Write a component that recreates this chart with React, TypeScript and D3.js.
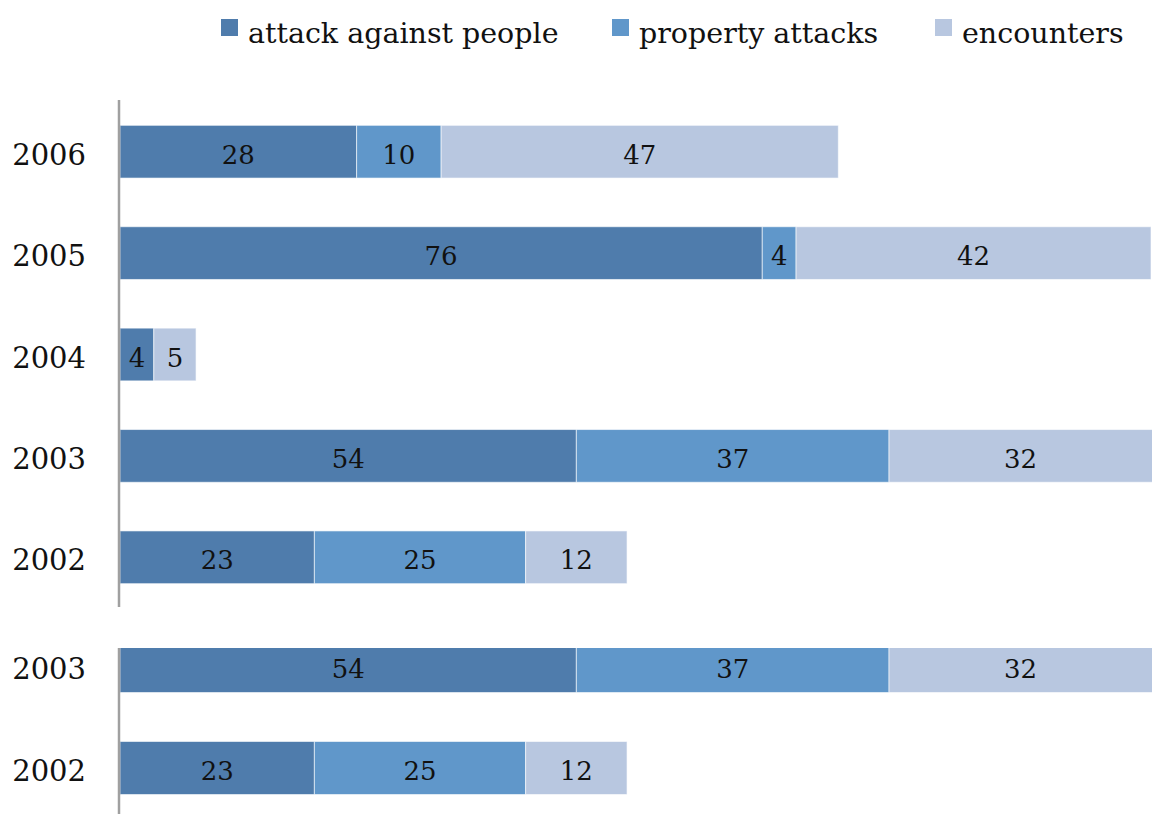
import React from "react";
import * as d3 from "d3";

const seriesNames = ["attack against people", "property attacks", "encounters"];
const seriesColors = ["#4f7cac", "#6097ca", "#b8c7e0"];

const topYears = ["2006", "2005", "2004", "2003", "2002"];
const topAttacks = [28, 76, 4, 54, 23];
const topProperty = [10, 4, 0, 37, 25];
const topEncounters = [47, 42, 5, 32, 12];

const bottomYears = ["2003", "2002"];
const bottomAttacks = [54, 23];
const bottomProperty = [37, 25];
const bottomEncounters = [32, 12];

const W = 1152;
const H = 814;
const FONT = "'DejaVu Serif', 'Liberation Serif', serif";

const x = d3.scaleLinear().domain([0, 122]).range([120, 1151]);

type Row = { year: string; values: number[] };

function buildRows(years: string[], a: number[], p: number[], e: number[]): Row[] {
  return years.map((y, i) => ({ year: y, values: [a[i], p[i], e[i]] }));
}

function Panel({ rows, y0, y1, clipTop, axisTop, axisBottom, id }: {
  rows: Row[]; y0: number; y1: number; clipTop: number; axisTop: number; axisBottom: number; id: string;
}) {
  const y = d3.scaleBand<string>().domain(rows.map((r) => r.year)).range([y0, y1]).paddingInner(0.48).paddingOuter(0.24);
  const stack = d3.stack<Row, number>().keys([0, 1, 2]).value((d, k) => d.values[k]);
  const stacked = stack(rows);
  return (
    <g>
      <defs>
        <clipPath id={id}>
          <rect x={0} y={clipTop} width={W} height={axisBottom - clipTop} />
        </clipPath>
      </defs>
      <g clipPath={`url(#${id})`}>
        {stacked.map((layer, si) =>
          layer.map((seg, ri) => {
            const v = rows[ri].values[si];
            if (!v) return null;
            const bx = x(seg[0]);
            const bw = x(seg[1]) - x(seg[0]);
            const by = y(rows[ri].year)!;
            const bh = y.bandwidth();
            const visRight = Math.min(bx + bw, W);
            return (
              <g key={`${si}-${ri}`}>
                <rect x={bx} y={by} width={bw} height={bh} fill={seriesColors[si]} stroke="#ffffff" strokeOpacity={0.6} strokeWidth={1} />
                <text x={(bx + visRight) / 2} y={by + bh / 2 + 3} textAnchor="middle" dominantBaseline="central"
                  fontFamily={FONT} fontSize={26} fill="#111">{v}</text>
              </g>
            );
          })
        )}
      </g>
      {rows.map((r) => (
        <text key={r.year} x={86} y={y(r.year)! + y.bandwidth() / 2 + 3} textAnchor="end" dominantBaseline="central"
          fontFamily={FONT} fontSize={29} fill="#111">{r.year}</text>
      ))}
      <line x1={119} x2={119} y1={axisTop} y2={axisBottom} stroke="#a0a0a0" strokeWidth={2.5} />
    </g>
  );
}

export default function App() {
  const topRows = buildRows(topYears, topAttacks, topProperty, topEncounters);
  const bottomRows = buildRows(bottomYears, bottomAttacks, bottomProperty, bottomEncounters);
  const legendX = [221, 612, 935];
  return (
    <svg width={W} height={H} style={{ position: "absolute", left: 0, top: 0, background: "#fff" }}>
      <rect x={0} y={0} width={W} height={H} fill="#fff" />
      {seriesNames.map((n, i) => (
        <g key={n}>
          <rect x={legendX[i]} y={19} width={17} height={17} fill={seriesColors[i]} />
          <text x={legendX[i] + 27} y={43} fontFamily={FONT} fontSize={28.5} fill="#111">{n}</text>
        </g>
      ))}
      <Panel rows={topRows} y0={101} y1={608} clipTop={0} axisTop={100} axisBottom={607} id="clipTop" />
      <Panel rows={bottomRows} y0={615} y1={819} clipTop={648} axisTop={648} axisBottom={814} id="clipBottom" />
    </svg>
  );
}
